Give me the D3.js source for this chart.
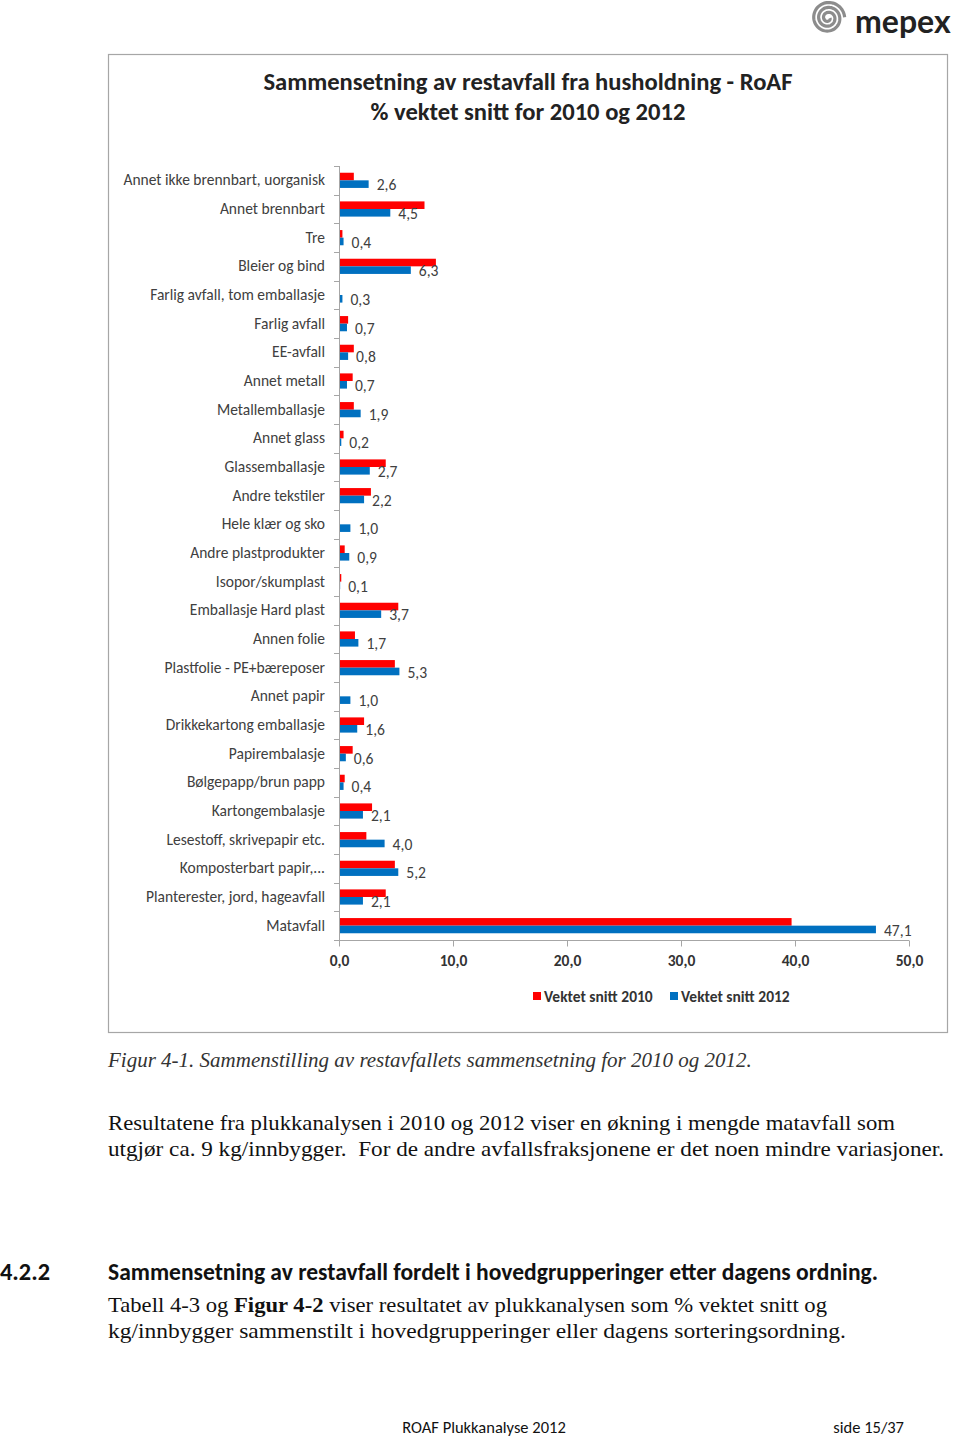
<!DOCTYPE html>
<html><head><meta charset="utf-8">
<script src="https://cdn.jsdelivr.net/npm/d3@7"></script>
<style>
html,body{margin:0;padding:0;background:#fff;}
svg{display:block;}
</style>
</head><body>
<svg id="page" width="960" height="1440"></svg>
<script>
const categories = [
  "Annet ikke brennbart, uorganisk","Annet brennbart","Tre","Bleier og bind",
  "Farlig avfall, tom emballasje","Farlig avfall","EE-avfall","Annet metall",
  "Metallemballasje","Annet glass","Glassemballasje","Andre tekstiler",
  "Hele klær og sko","Andre plastprodukter","Isopor/skumplast","Emballasje Hard plast",
  "Annen folie","Plastfolie - PE+bæreposer","Annet papir","Drikkekartong emballasje",
  "Papirembalasje","Bølgepapp/brun papp","Kartongembalasje","Lesestoff, skrivepapir etc.",
  "Komposterbart papir,...","Planterester, jord, hageavfall","Matavfall"
];
const values2010 = [1.3,7.5,0.3,8.5,0,0.8,1.3,1.2,1.3,0.4,4.1,2.8,0,0.5,0.2,5.2,1.4,4.9,0,2.2,1.2,0.5,2.9,2.4,4.9,4.1,39.7];
const values2012 = [2.6,4.5,0.4,6.3,0.3,0.7,0.8,0.7,1.9,0.2,2.7,2.2,1.0,0.9,0.1,3.7,1.7,5.3,1.0,1.6,0.6,0.4,2.1,4.0,5.2,2.1,47.1];
const xTicks = [0,10,20,30,40,50];
const seriesNames = ["Vektet snitt 2010","Vektet snitt 2012"];
const seriesColors = ["#ff0000","#0070c0"];

const svg = d3.select("#page");
const sans = "Carlito, Lato, 'Open Sans', sans-serif";
const serif = "'Liberation Serif', 'DejaVu Serif', serif";
const fmt = v => d3.format(".1f")(v).replace(".", ",");

// logo
const logo = svg.append("g").attr("transform","translate(828,18)");
const spiralPts = d3.range(0, 6*Math.PI, 0.1).map(t => {const r = 2 + t*0.78; return [r*Math.cos(t), r*Math.sin(t)];});
logo.append("path").attr("d", d3.line()(spiralPts)).attr("fill","none").attr("stroke","#8c8c8c").attr("stroke-width",3.2);
svg.append("text").attr("x",855).attr("y",33).attr("font-family","Lato, sans-serif").attr("font-weight","bold").attr("font-size",32)
  .attr("fill","#222").text("mepex");

// chart frame
svg.append("rect").attr("x",108.5).attr("y",54.5).attr("width",839).attr("height",978).attr("fill","#fff").attr("stroke","#a6a6a6").attr("stroke-width",1.2);

svg.append("text").attr("x",528).attr("y",90).attr("text-anchor","middle").attr("font-family",sans).attr("font-weight","bold").attr("font-size",24.6).attr("fill","#222").text("Sammensetning av restavfall fra husholdning - RoAF");
svg.append("text").attr("x",528).attr("y",120).attr("text-anchor","middle").attr("font-family",sans).attr("font-weight","bold").attr("font-size",24.6).attr("fill","#222").text("% vektet snitt for 2010 og 2012");

const x = d3.scaleLinear().domain([0,50]).range([339,909]);
const y = d3.scaleBand().domain(categories).range([166,940]);
const barH = 7.6;

const g = svg.append("g");
categories.forEach((c,i) => {
  const cy = y(c) + y.bandwidth()/2;
  g.append("rect").attr("x",x(0)).attr("y",cy-barH).attr("width",x(values2010[i])-x(0)).attr("height",barH).attr("fill",seriesColors[0]);
  g.append("rect").attr("x",x(0)).attr("y",cy).attr("width",x(values2012[i])-x(0)).attr("height",barH).attr("fill",seriesColors[1]);
  g.append("text").attr("x",x(values2012[i])+8).attr("y",cy+10).attr("font-family",sans).attr("font-size",15.6).attr("fill","#404040").text(fmt(values2012[i]));
  g.append("text").attr("x",325).attr("y",cy+5).attr("text-anchor","end").attr("font-family",sans).attr("font-size",15.5).attr("fill","#404040").text(c);
});

g.append("line").attr("x1",339.5).attr("x2",339.5).attr("y1",166).attr("y2",940).attr("stroke","#a6a6a6");
d3.range(categories.length+1).forEach(k => {
  const yy = Math.round(166 + k*y.step()) + 0.5;
  g.append("line").attr("x1",334).attr("x2",339.5).attr("y1",yy).attr("y2",yy).attr("stroke","#a6a6a6");
});
const xAxis = d3.axisBottom(x).tickValues(xTicks).tickSize(6).tickFormat(fmt);
const xa = svg.append("g").attr("transform","translate(0,940.5)").call(xAxis);
xa.select(".domain").attr("stroke","#a6a6a6").attr("d","M339,0H909");
xa.selectAll(".tick line").attr("stroke","#a6a6a6");
xa.selectAll(".tick text").attr("y",14).attr("dy","0.71em").attr("font-family",sans).attr("font-weight","bold").attr("font-size",15.5).attr("fill","#333");

const lg = svg.append("g");
const legendX = [533, 670];
seriesNames.forEach((n,i) => {
  lg.append("rect").attr("x",legendX[i]).attr("y",992).attr("width",8).attr("height",8).attr("fill",seriesColors[i]);
  lg.append("text").attr("x",legendX[i]+11).attr("y",1001.5).attr("font-family",sans).attr("font-weight","bold").attr("font-size",15.5).attr("fill","#333").text(n);
});

svg.append("text").attr("x",108).attr("y",1067).attr("font-family",serif).attr("font-style","italic").attr("font-size",21).attr("fill","#333").text("Figur 4-1. Sammenstilling av restavfallets sammensetning for 2010 og 2012.");
svg.append("text").attr("x",108).attr("y",1130).attr("font-family",serif).attr("font-size",21).attr("fill","#111")
  .attr("textLength",787).attr("lengthAdjust","spacingAndGlyphs").text("Resultatene fra plukkanalysen i 2010 og 2012 viser en økning i mengde matavfall som");
svg.append("text").attr("x",108).attr("y",1156).attr("font-family",serif).attr("font-size",21).attr("fill","#111").attr("xml:space","preserve")
  .attr("textLength",836).attr("lengthAdjust","spacingAndGlyphs").text("utgjør ca. 9 kg/innbygger.  For de andre avfallsfraksjonene er det noen mindre variasjoner.");

svg.append("text").attr("x",0).attr("y",1280).attr("font-family",sans).attr("font-weight","bold").attr("font-size",23.6)
  .attr("textLength",50).attr("lengthAdjust","spacingAndGlyphs").attr("fill","#111").text("4.2.2");
svg.append("text").attr("x",108).attr("y",1280).attr("font-family",sans).attr("font-weight","bold").attr("font-size",23.6)
  .attr("textLength",770).attr("lengthAdjust","spacingAndGlyphs").attr("fill","#111").text("Sammensetning av restavfall fordelt i hovedgrupperinger etter dagens ordning.");
const t1 = svg.append("text").attr("x",108).attr("y",1312).attr("font-family",serif).attr("font-size",21).attr("fill","#111")
  .attr("textLength",719).attr("lengthAdjust","spacingAndGlyphs");
t1.append("tspan").text("Tabell 4-3 og ");
t1.append("tspan").attr("font-weight","bold").text("Figur 4-2");
t1.append("tspan").text(" viser resultatet av plukkanalysen som % vektet snitt og");
svg.append("text").attr("x",108).attr("y",1338).attr("font-family",serif).attr("font-size",21).attr("fill","#111")
  .attr("textLength",738).attr("lengthAdjust","spacingAndGlyphs").text("kg/innbygger sammenstilt i hovedgrupperinger eller dagens sorteringsordning.");

svg.append("text").attr("x",484).attr("y",1433).attr("text-anchor","middle").attr("font-family",sans).attr("font-size",16.5).attr("fill","#111").text("ROAF Plukkanalyse 2012");
svg.append("text").attr("x",904).attr("y",1433).attr("text-anchor","end").attr("font-family",sans).attr("font-size",16.5).attr("fill","#111").text("side 15/37");
</script>
</body></html>
